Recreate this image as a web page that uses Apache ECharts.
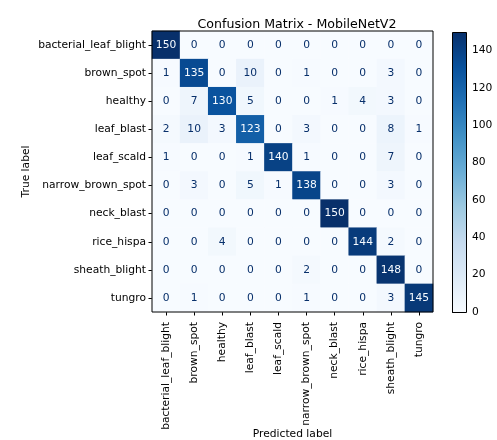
<!DOCTYPE html>
<html>
<head>
<meta charset="utf-8">
<script src="https://cdn.jsdelivr.net/npm/echarts@6/dist/echarts.min.js"></script>
<style>html,body{margin:0;padding:0;background:#fff}#c{width:497px;height:440px}</style>
</head>
<body>
<div id="c"></div>
<script>
const categories = ['bacterial_leaf_blight','brown_spot','healthy','leaf_blast','leaf_scald','narrow_brown_spot','neck_blast','rice_hispa','sheath_blight','tungro'];
const matrix = [
  [150,0,0,0,0,0,0,0,0,0],
  [1,135,0,10,0,1,0,0,3,0],
  [0,7,130,5,0,0,1,4,3,0],
  [2,10,3,123,0,3,0,0,8,1],
  [1,0,0,1,140,1,0,0,7,0],
  [0,3,0,5,1,138,0,0,3,0],
  [0,0,0,0,0,0,150,0,0,0],
  [0,0,4,0,0,0,0,144,2,0],
  [0,0,0,0,0,2,0,0,148,0],
  [0,1,0,0,0,1,0,0,3,145]
];
const colorbarMin = 0, colorbarMax = 150, colorbarStep = 20;
const blues = ['#f7fbff','#deebf7','#c6dbef','#9ecae1','#6baed6','#4292c6','#2171b5','#08519c','#08306b'];

const FONT = 'DejaVu Sans';
const FS = 10.7;
let vmax = 0, vmin = Infinity;
matrix.forEach(r => r.forEach(v => { vmax = Math.max(vmax, v); vmin = Math.min(vmin, v); }));
const thresh = (vmax + vmin) / 2;
const data = [];
matrix.forEach((row, i) => row.forEach((v, j) => {
  data.push({ value: [j, i, v], label: { color: v < thresh ? '#08306b' : '#f7fbff' } });
}));

const chart = echarts.init(document.getElementById('c'), null, { renderer: 'canvas' });
const gradStops = blues.map((c, i) => ({ offset: 1 - i / (blues.length - 1), color: c }));
chart.setOption({
  animation: false,
  textStyle: { fontFamily: FONT },
  title: { text: 'Confusion Matrix - MobileNetV2', left: 292, textAlign: 'center', top: 13,
    textStyle: { fontFamily: FONT, fontSize: 12.6, fontWeight: 'normal', color: '#000' } },
  grid: [
    { left: 152, top: 31, width: 281, height: 281, show: true, borderColor: '#000', borderWidth: 1, backgroundColor: 'transparent', z: 5, outerBoundsMode: 'none', containLabel: false },
    { left: 452, top: 32, width: 14, height: 280, show: false, outerBoundsMode: 'none', containLabel: false }
  ],
  xAxis: [
    { type: 'category', gridIndex: 0, data: categories, position: 'bottom',
      name: 'Predicted label', nameLocation: 'middle', nameGap: 117, nameMoveOverlap: false,
      nameTextStyle: { fontFamily: FONT, fontSize: FS, color: '#000' },
      axisLine: { show: false }, splitLine: { show: false },
      axisTick: { show: true, alignWithLabel: true, length: 3.5, lineStyle: { color: '#000' } },
      axisLabel: { rotate: 90, fontFamily: FONT, fontSize: FS, color: '#000', margin: 10, interval: 0 } },
    { type: 'value', gridIndex: 1, show: false, min: 0, max: 1 }
  ],
  yAxis: [
    { type: 'category', gridIndex: 0, data: categories, inverse: true,
      name: 'True label', nameLocation: 'middle', nameGap: 120, nameRotate: 90, nameMoveOverlap: false,
      nameTextStyle: { fontFamily: FONT, fontSize: FS, color: '#000' },
      axisLine: { show: false }, splitLine: { show: false },
      axisTick: { show: true, alignWithLabel: true, length: 3.5, lineStyle: { color: '#000' } },
      axisLabel: { fontFamily: FONT, fontSize: FS, color: '#000', margin: 6, interval: 0 } },
    { type: 'value', gridIndex: 1, position: 'right', min: colorbarMin, max: colorbarMax, interval: colorbarStep,
      axisLine: { show: false }, splitLine: { show: false },
      axisTick: { show: true, length: 3.5, lineStyle: { color: '#000' } },
      axisLabel: { fontFamily: FONT, fontSize: FS, color: '#000', margin: 6, showMaxLabel: false } }
  ],
  visualMap: { show: false, type: 'continuous', min: colorbarMin, max: colorbarMax, seriesIndex: 0, dimension: 2,
    inRange: { color: blues } },
  graphic: [
    { type: 'rect', left: 452, top: 32, shape: { width: 14, height: 280 }, z: 10,
      style: { fill: new echarts.graphic.LinearGradient(0, 0, 0, 1, gradStops), stroke: '#000', lineWidth: 1 } }
  ],
  series: [{
    type: 'heatmap', xAxisIndex: 0, yAxisIndex: 0, data: data,
    label: { show: true, fontFamily: FONT, fontSize: FS },
    emphasis: { disabled: true },
    itemStyle: { borderWidth: 0 }
  }]
});
</script>
</body>
</html>
